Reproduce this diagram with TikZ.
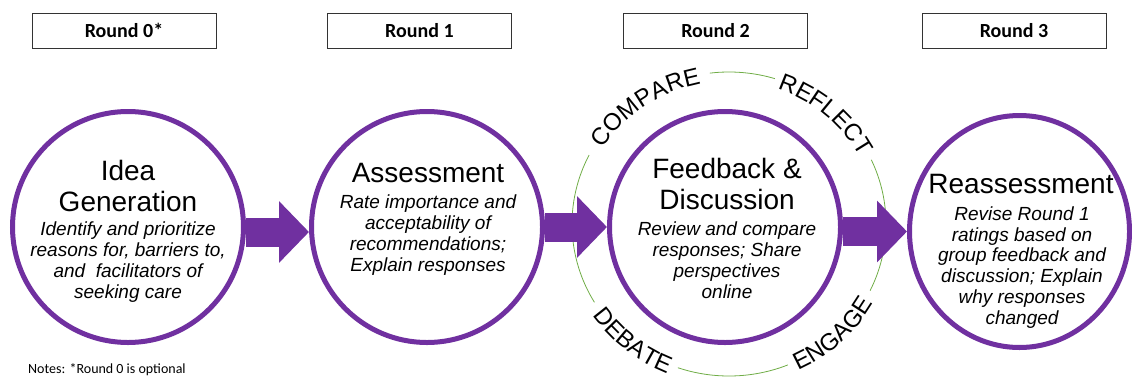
\documentclass[tikz,border=0pt]{standalone}
\usepackage{fontspec}
\setmainfont{Liberation Sans}
\newfontfamily\carlito{Carlito}
\usetikzlibrary{arrows.meta,decorations.text,shapes.geometric}
\definecolor{roundpurple}{RGB}{112,48,160}
\definecolor{ringgreen}{RGB}{112,173,71}

\begin{document}
\begin{tikzpicture}[x=1pt, y=1pt,
    stage/.style={circle, draw=roundpurple, line width=5pt, fill=white, minimum size=231pt, inner sep=0pt},
    roundbox/.style={draw=black!80, line width=0.8pt, minimum width=184pt, minimum height=35pt, inner sep=0pt, font=\carlito\bfseries\fontsize{20}{24}\selectfont},
    stagetitle/.style={align=center, anchor=base, font=\fontsize{28}{31}\selectfont},
    stagetext/.style={align=center, anchor=base, font=\itshape\fontsize{19}{20.7}\selectfont},
    flow/.style={draw=roundpurple, line width=29pt, -{Triangle[length=30pt,width=60pt]}},
    ring/.style={draw=ringgreen, line width=0.8pt},
    ringword/.style={decorate, decoration={text along path, text align=center, text={|\fontsize{24}{24}\selectfont|#1}}}
  ]
    \useasboundingbox (0,0) rectangle (1132,-378);

    % Round headers
    \node[roundbox] (r0) at (124,-30.5) {Round 0*};
    \node[roundbox] (r1) at (419.5,-30.5) {Round 1};
    \node[roundbox] (r2) at (715.5,-30.5) {Round 2};
    \node[roundbox] (r3) at (1014,-30.5) {Round 3};

    % Green ring round the discussion stage
    \coordinate (rc) at (729,-224);
    \draw[ring] (rc) ++(73:157 and 152) arc[start angle=73, end angle=97, x radius=157, y radius=152];
    \draw[ring] (rc) ++(153:157 and 152) arc[start angle=153, end angle=211, x radius=157, y radius=152];
    \draw[ring] (rc) ++(251:157 and 152) arc[start angle=251, end angle=292, x radius=157, y radius=152];
    \draw[ring] (rc) ++(334:157 and 152) arc[start angle=334, end angle=385, x radius=157, y radius=152];
    \path[ringword=COMPARE] (rc) ++(175:148 and 143) arc[start angle=175, end angle=75, x radius=148, y radius=143];
    \path[ringword=REFLECT] (rc) ++(99:148 and 143) arc[start angle=99, end angle=-1, x radius=148, y radius=143];
    \path[ringword=DEBATE] (rc) ++(181:166 and 161) arc[start angle=181, end angle=281, x radius=166, y radius=161];
    \path[ringword=ENGAGE] (rc) ++(263:166 and 161) arc[start angle=263, end angle=363, x radius=166, y radius=161];

    % Stages
    \node[stage] (c1) at (128,-227) {};
    \node[stage] (c2) at (427,-227) {};
    \node[stage] (c3) at (725,-227) {};
    \node[stage, ellipse, minimum width=220pt, minimum height=232pt] (c4) at (1019.5,-231.5) {};

    % Arrows between stages
    \draw[flow] ([yshift=-5pt]c1.east) -- ([yshift=-5pt]c2.west);
    \draw[flow] (c2.east) -- (c3.west);
    \draw[flow] (c3.east |- c4.west) -- (c4.west);

    % Stage texts (placed at the baseline of their last line)
    \node[stagetitle] (t1) at (128,-211) {Idea\\Generation};
    \node[stagetext] (d1) at (128,-298) {Identify and prioritize\\reasons for, barriers to,\\and~ facilitators of\\seeking care};
    \node[stagetitle] (t2) at (428,-182) {Assessment};
    \node[stagetext] (d2) at (428,-271) {Rate importance and\\acceptability of\\recommendations;\\Explain responses};
    \node[stagetitle] (t3) at (727,-209) {Feedback \&\\Discussion};
    \node[stagetext] (d3) at (727,-298) {Review and compare\\responses; Share\\perspectives\\online};
    \node[stagetitle] (t4) at (1021,-193) {Reassessment};
    \node[stagetext] (d4) at (1022,-324) {Revise Round 1\\ratings based on\\group feedback and\\discussion; Explain\\why responses\\changed};

    % Note
    \node[anchor=base west, inner sep=0pt, font=\carlito\fontsize{14}{16}\selectfont] (note) at (28,-373) {Notes: *Round 0 is optional};
\end{tikzpicture}
\end{document}
